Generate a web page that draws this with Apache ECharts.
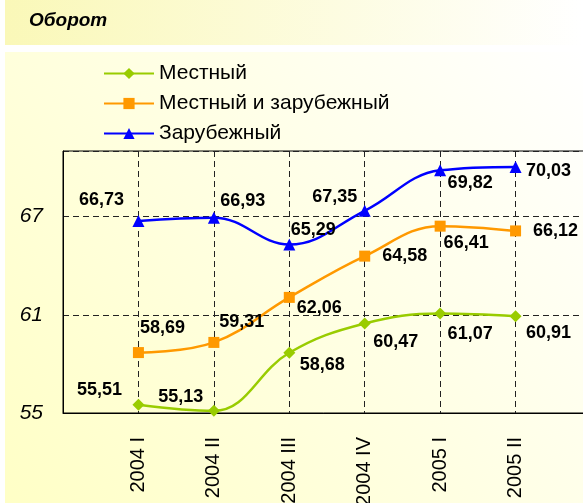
<!DOCTYPE html>
<html>
<head>
<meta charset="utf-8">
<script src="https://cdn.jsdelivr.net/npm/echarts@6/dist/echarts.min.js"></script>
<style>
  html, body { margin: 0; padding: 0; background: #fff; }
  #chart { width: 583px; height: 503px; }
</style>
</head>
<body>
<div id="chart"></div>
<script>
// данные
const categories = ['2004 I', '2004 II', '2004 III', '2004 IV', '2005 I', '2005 II'];
const local = [55.51, 55.13, 58.68, 60.47, 61.07, 60.91];
const mixed = [58.69, 59.31, 62.06, 64.58, 66.41, 66.12];
const foreign = [66.73, 66.93, 65.29, 67.35, 69.82, 70.03];
const yTicks = { min: 55, max: 71, step: 6 };

// смещения подписей относительно точек (только оформление)
const localOffsets = [[-39, -15], [-33, -14], [33, 12], [31, 19], [30, 20], [33, 17]];
const mixedOffsets = [[24, -25], [28, -20], [30, 11], [40, 0], [26, 17], [40, 0]];
const foreignOffsets = [[-37, -21], [29, -17], [24, -14], [-30, -14], [30, 13], [33, 4]];

const font = 'Liberation Sans, Arial, sans-serif';

// пустые категории по краям, чтобы точки стояли на линиях сетки
const axisData = [''].concat(categories, ['']);
function pad(arr, offsets) {
  const out = [null];
  arr.forEach((v, i) => {
    out.push({
      value: v,
      label: { offset: offsets[i] }
    });
  });
  out.push(null);
  return out;
}

function makeSeries(name, data, offsets, color, symbol, size) {
  return {
    name: name,
    type: 'line',
    smooth: 0.4,
    data: pad(data, offsets),
    symbol: symbol,
    symbolSize: size,
    lineStyle: { color: color, width: 2.5 },
    itemStyle: { color: color },
    label: {
      show: true,
      position: 'inside',
      color: '#000',
      fontFamily: font,
      fontWeight: 'bold',
      fontSize: 18,
      formatter: p => p.value.toFixed(2).replace('.', ',')
    },
    emphasis: { disabled: true }
  };
}

const chart = echarts.init(document.getElementById('chart'));
chart.setOption({
  animation: false,
  backgroundColor: '#fff',
  graphic: [
    {
      type: 'rect', z: -10, silent: true,
      shape: { x: 5, y: 0, width: 578, height: 45 },
      style: { fill: new echarts.graphic.LinearGradient(0, 0, 1, 0, [
        { offset: 0, color: '#FAF8B8' }, { offset: 1, color: '#FFFFFF' }
      ]) }
    },
    {
      type: 'rect', z: -10, silent: true,
      shape: { x: 5, y: 52, width: 578, height: 451 },
      style: { fill: new echarts.graphic.LinearGradient(0, 1, 1, 0, [
        { offset: 0, color: '#FFFFC6' }, { offset: 1, color: '#FFFFFF' }
      ]) }
    }
  ],
  title: {
    text: 'Оборот',
    left: 24, top: 6,
    textStyle: { fontFamily: font, fontStyle: 'italic', fontWeight: 'bold', fontSize: 19, color: '#000' }
  },
  legend: {
    orient: 'vertical',
    left: 103, top: 63, padding: 0,
    itemWidth: 50, itemHeight: 14, itemGap: 9,
    textStyle: { fontFamily: font, fontSize: 21, color: '#000', lineHeight: 20 },
    data: ['Местный', 'Местный и зарубежный', 'Зарубежный']
  },
  grid: {
    left: 63, top: 151, width: 528, height: 262,
    outerBoundsMode: 'none',
    containLabel: false,
    show: true, borderColor: '#000', borderWidth: 1,
    backgroundColor: 'transparent'
  },
  xAxis: {
    type: 'category',
    data: axisData,
    boundaryGap: false,
    axisLine: { lineStyle: { color: '#000', width: 1 } },
    axisTick: { show: false },
    axisLabel: { rotate: 90, margin: 24, fontFamily: font, fontSize: 20, color: '#000', interval: 0 },
    splitLine: { show: true, lineStyle: { color: '#222', type: [6, 4], width: 1 } }
  },
  yAxis: {
    type: 'value',
    min: yTicks.min, max: yTicks.max, interval: yTicks.step,
    axisLine: { show: true, lineStyle: { color: '#000', width: 1 } },
    axisTick: { show: false },
    axisLabel: { showMaxLabel: false, margin: 20, fontFamily: font, fontStyle: 'italic', fontSize: 21, color: '#000' },
    splitLine: { show: true, lineStyle: { color: '#222', type: [6, 4], width: 1 } }
  },
  series: [
    makeSeries('Местный', local, localOffsets, '#99CC00', 'diamond', 12),
    makeSeries('Местный и зарубежный', mixed, mixedOffsets, '#FF9900', 'rect', 11),
    makeSeries('Зарубежный', foreign, foreignOffsets, '#0000FF', 'triangle', 12)
  ]
});
</script>
</body>
</html>
